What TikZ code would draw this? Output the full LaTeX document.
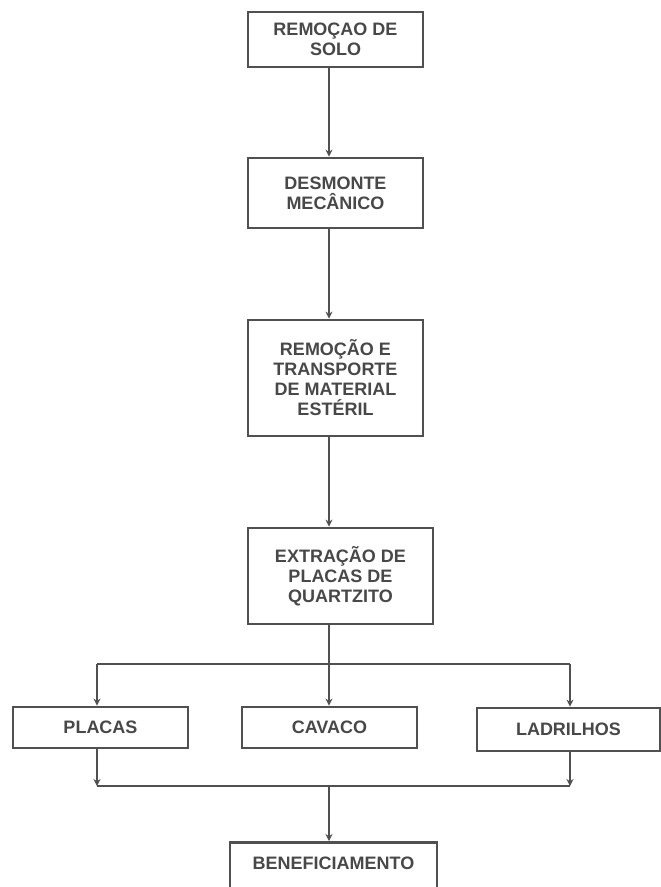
\documentclass[tikz,border=0pt]{standalone}
\usepackage{fontspec}
\setmainfont{Liberation Sans}
\usetikzlibrary{arrows.meta,calc}
\definecolor{ln}{HTML}{505050}
\definecolor{tx}{HTML}{484848}
\begin{document}
\begin{tikzpicture}[x=1pt,y=-1pt,
  box/.style={draw=ln,line width=2.8pt,inner sep=0pt,align=center,
    font=\fontsize{18}{20}\selectfont\bfseries,text=tx},
  arr/.style={draw=ln,line width=2.6pt,-{Stealth[length=7pt,width=7pt]}},
  ln/.style={draw=ln,line width=2.6pt}]
\useasboundingbox (0,0) rectangle (661,887);
\fill[white] (0,0) rectangle (661,887);
\clip (0,0) rectangle (661,887);
% boxes
\node[box,minimum width=175pt,minimum height=55pt] (b1) at (335.5,39.5) {REMOÇAO DE\\SOLO};
\node[box,minimum width=175pt,minimum height=70pt] (b2) at (335.5,193) {DESMONTE\\MECÂNICO};
\node[box,minimum width=175pt,minimum height=116pt] (b3) at (335.5,378) {REMOÇÃO E\\TRANSPORTE\\DE MATERIAL\\ESTÉRIL};
\node[box,minimum width=185pt,minimum height=96pt] (b4) at (340.5,576) {EXTRAÇÃO DE\\PLACAS DE\\QUARTZITO};
\node[box,minimum width=175pt,minimum height=41pt] (pl) at (100.5,727.5) {PLACAS};
\node[box,minimum width=175pt,minimum height=41pt] (cv) at (329.5,727.5) {CAVACO};
\node[box,minimum width=183pt,minimum height=43pt] (ld) at (568.5,729.5) {LADRILHOS};
\node[box,minimum width=207pt,minimum height=48pt,anchor=north] (bf) at (333.5,841) {};
\node[font=\fontsize{18}{20}\selectfont\bfseries,text=tx] (bft) at (333.5,863) {BENEFICIAMENTO};
% connector coordinates
\coordinate (sp) at (329,0);
\coordinate (spl) at (97,0);
\coordinate (spr) at (570,0);
\coordinate (split) at (329,664);
\coordinate (merge) at (329,786);
% spine
\draw[arr] (b1.south -| sp) -- (b2.north -| sp);
\draw[arr] (b2.south -| sp) -- (b3.north -| sp);
\draw[arr] (b3.south -| sp) -- (b4.north -| sp);
\draw[ln] (b4.south -| sp) -- (split);
\draw[ln] (split -| spl) -- (split -| spr);
\draw[arr] (split -| spl) -- (pl.north -| spl);
\draw[arr] (split) -- (cv.north -| sp);
\draw[arr] (split -| spr) -- (ld.north -| spr);
% merge
\draw[arr] (pl.south -| spl) -- (merge -| spl);
\draw[arr] (ld.south -| spr) -- (merge -| spr);
\draw[ln] (merge -| spl) -- (merge -| spr);
\draw[arr] (merge) -- (bf.north -| sp);
\end{tikzpicture}
\end{document}
